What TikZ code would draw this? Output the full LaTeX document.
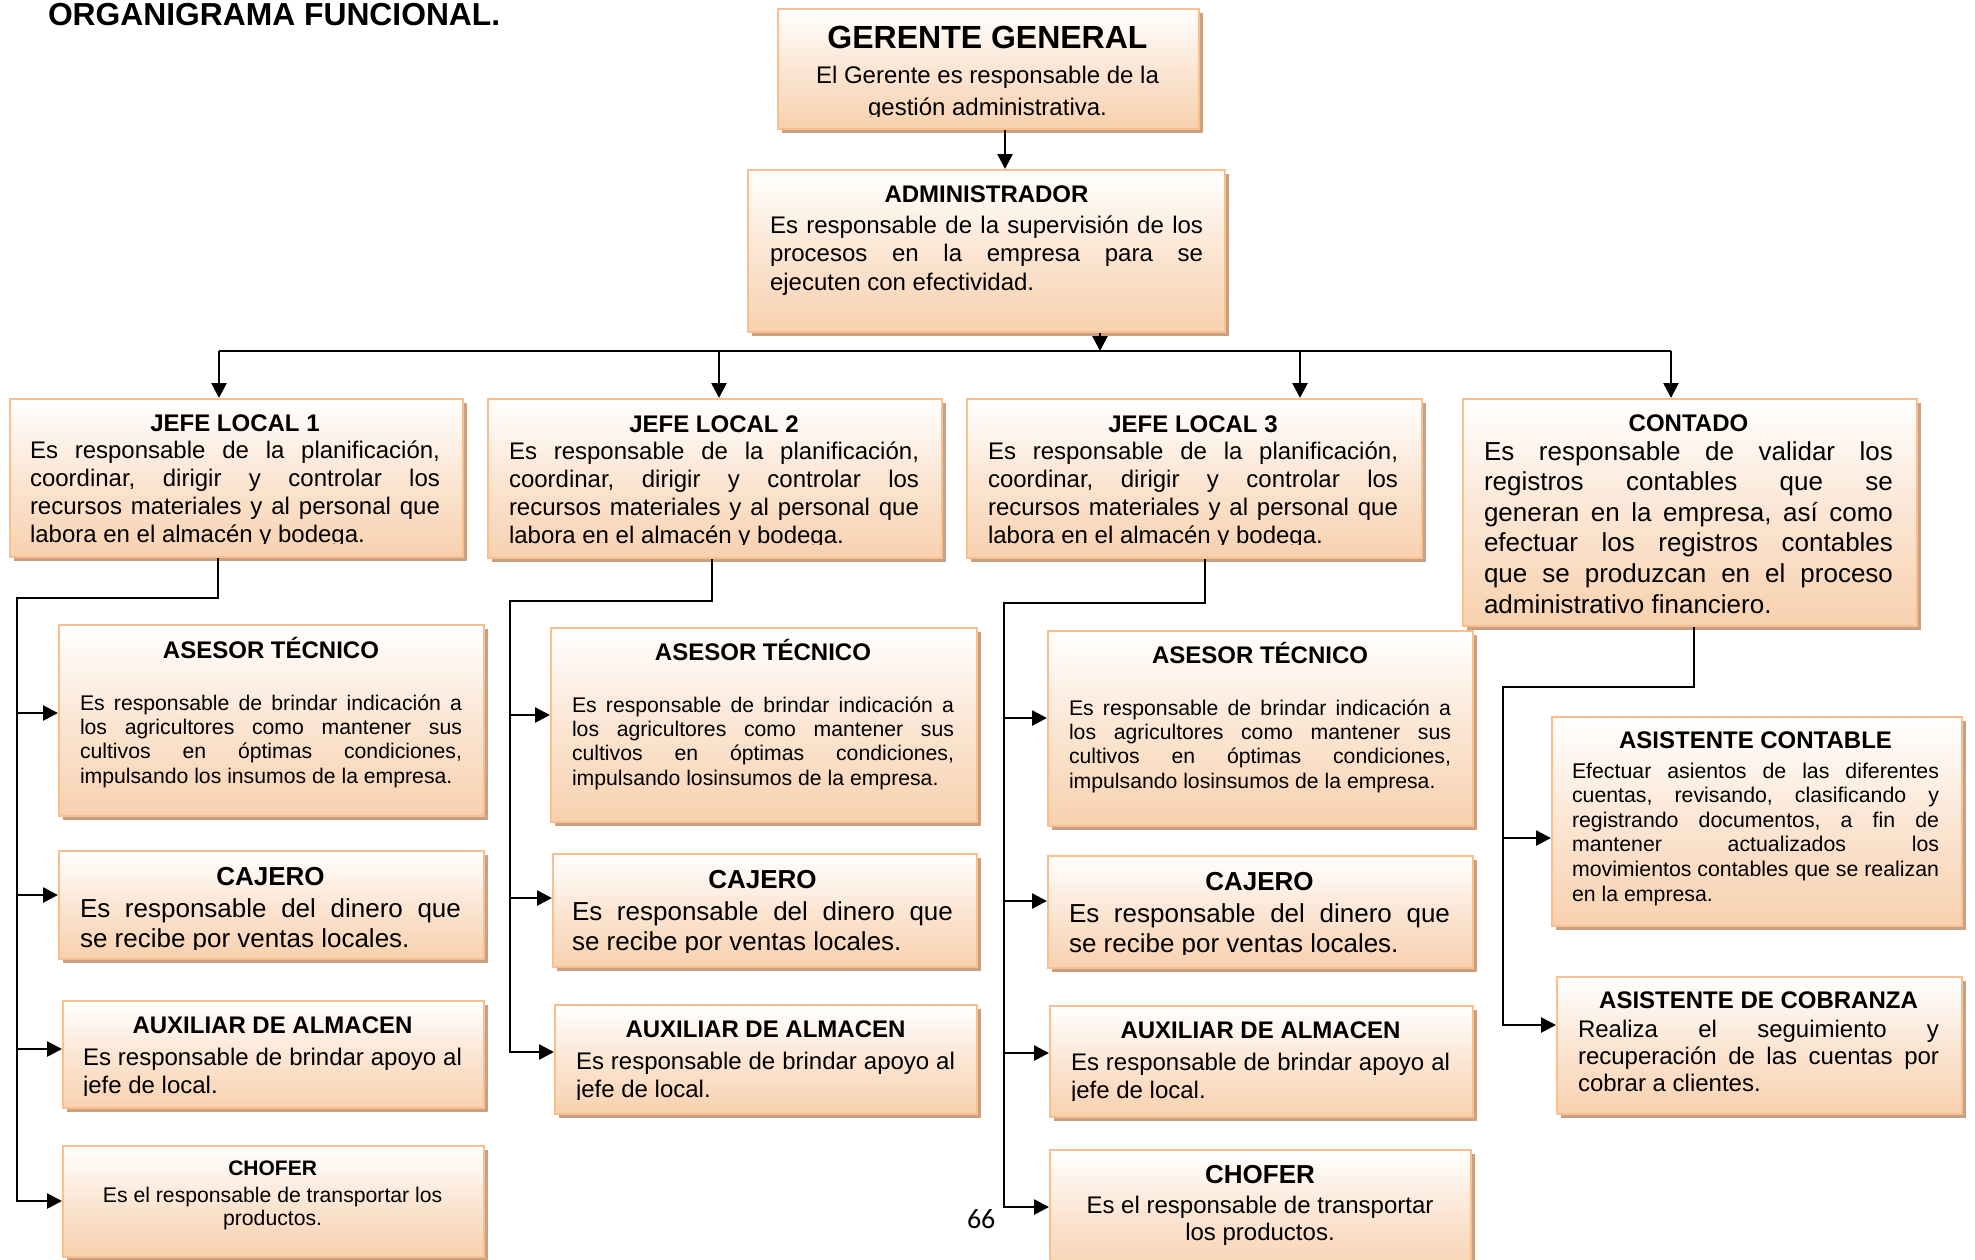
\documentclass[tikz,border=0pt]{standalone}
\usepackage{fontspec}
\setmainfont{Liberation Sans}
\newfontfamily\pgnum{Carlito}
\usetikzlibrary{arrows.meta,shadows}
\definecolor{bord}{HTML}{F9BF8F}
\definecolor{peach}{HTML}{F8D1AF}
\definecolor{shad}{HTML}{C9A182}
\frenchspacing
\newcommand\SK[1]{\baselineskip=#1\relax}
\newcommand\TT[2]{\hbox to\hsize{\hfil\fontsize{#1}{#1}\selectfont\bfseries #2\hfil}}
\newcommand\J[1]{\hbox to\hsize{#1}}
\newcommand\LL[1]{\hbox to\hsize{#1\hfil}}
\newcommand\CC[1]{\hbox to\hsize{\hfil#1\hfil}}
\newcommand\TB[2]{\vtop{\hsize=#1\lineskiplimit=-\maxdimen\lineskip=0pt\relax #2}}
\newcommand\BF[1]{\fontsize{#1}{#1}\selectfont}
\tikzset{
  box/.style={draw=bord, line width=1pt, top color=white, bottom color=peach, middle color=peach!55!white, inner sep=0pt,
    drop shadow={shadow xshift=2pt, shadow yshift=-2pt, fill=shad, opacity=1}},
  tx/.style={anchor=base west, inner sep=0pt, outer sep=0pt},
  conn/.style={line width=1.3pt},
  arr/.style={conn, -{Triangle[length=7.5pt,width=7.5pt]}}
}
\newcommand\pbox[5]{\node[box, anchor=north west, minimum width={(#4-#2)*0.5pt}, minimum height={(#5-#3)*0.5pt}] (#1) at (#2,#3) {};}
\begin{document}
\begin{tikzpicture}[x=0.5pt,y=-0.5pt]
\useasboundingbox (0,0) rectangle (1975,1259);
\fill[white] (0,0) rectangle (1975,1259);

\node[tx] (ttl) at (48,25) {\BF{15.9}\bfseries ORGANIGRAMA FUNCIONAL.};

% boxes
\pbox{ger}{777}{8}{1198}{128}
\pbox{adm}{747}{169}{1224}{331}
\pbox{j1}{9}{398}{462}{556}
\pbox{j2}{487}{398}{941}{557}
\pbox{j3}{966}{398}{1421}{557}
\pbox{ctd}{1462}{398}{1916}{625}
\pbox{as1}{58}{624}{483}{815}
\pbox{cj1}{58}{850}{483}{958}
\pbox{ax1}{62}{1000}{483}{1107}
\pbox{ch1}{62}{1145}{483}{1256}
\pbox{as2}{550}{627}{976}{821}
\pbox{cj2}{552}{853}{976}{966}
\pbox{ax2}{554}{1004}{976}{1113}
\pbox{as3}{1047}{630}{1472}{825}
\pbox{cj3}{1047}{855}{1472}{967}
\pbox{ax3}{1049}{1005}{1472}{1116}
\pbox{ch3}{1049}{1149}{1470}{1275}
\pbox{acb}{1551}{716}{1961}{925}
\pbox{acz}{1556}{976}{1961}{1113}

% texts
\begin{scope}
\clip (777,8) rectangle (1198,116);
\node[tx] (tger) at (777.5,48) {\TB{210pt}{\BF{12}\TT{16}{GERENTE GENERAL}\SK{17.5pt}\CC{El Gerente es responsable de la}\SK{16pt}\CC{gestión administrativa.}}};
\end{scope}

\node[tx] (tadm) at (770,202) {\TB{216.5pt}{\BF{12}\TT{12}{ADMINISTRADOR}\SK{15.5pt}\J{Es responsable de la supervisión de los}\SK{14.25pt}\J{procesos en la empresa para se}\LL{ejecuten con efectividad.}}};

\newcommand\jefetext[1]{\TB{205pt}{\BF{12}\TT{12}{JEFE LOCAL #1}\SK{13.5pt}\J{Es responsable de la planificación,}\SK{14pt}\J{coordinar, dirigir y controlar los}\J{recursos materiales y al personal que}\LL{labora en el almacén y bodega.}}}
\begin{scope}
\clip (9,398) rectangle (462,543.5);
\node[tx] (tj1) at (30,431) {\jefetext{1}};
\end{scope}
\begin{scope}
\clip (487,398) rectangle (941,544.5);
\node[tx] (tj2) at (509,432) {\jefetext{2}};
\end{scope}
\begin{scope}
\clip (966,398) rectangle (1421,544.5);
\node[tx] (tj3) at (988,432) {\jefetext{3}};
\end{scope}

\node[tx] (tctd) at (1484,431) {\TB{204.5pt}{\BF{13}\TT{12}{CONTADO}\SK{14.5pt}\J{Es responsable de validar los}\SK{15.3pt}\J{registros contables que se}\J{generan en la empresa, así como}\J{efectuar los registros contables}\J{que se produzcan en el proceso}\LL{administrativo financiero.}}};

\newcommand\asesortext[1]{\TB{191pt}{\BF{10.6}\TT{12}{ASESOR TÉCNICO}\SK{26pt}\J{Es responsable de brindar indicación a}\SK{12.2pt}\J{los agricultores como mantener sus}\J{cultivos en óptimas condiciones,}\LL{impulsando #1 de la empresa.}}}
\node[tx] (tas1) at (80,658) {\asesortext{los insumos}};
\node[tx] (tas2) at (572,660) {\asesortext{losinsumos}};
\node[tx] (tas3) at (1069,663) {\asesortext{losinsumos}};

\newcommand\cajerotext{\TB{190.5pt}{\BF{13}\TT{13}{CAJERO}\SK{16pt}\J{Es responsable del dinero que}\SK{15pt}\LL{se recibe por ventas locales.}}}
\begin{scope}
\clip (58,850) rectangle (483,949);
\node[tx] (tcj1) at (80,885) {\cajerotext};
\end{scope}
\begin{scope}
\clip (552,853) rectangle (976,952);
\node[tx] (tcj2) at (572,888) {\cajerotext};
\end{scope}
\begin{scope}
\clip (1047,855) rectangle (1472,954);
\node[tx] (tcj3) at (1069,890) {\cajerotext};
\end{scope}

\newcommand\auxtext{\TB{189.5pt}{\BF{12}\TT{12}{AUXILIAR DE ALMACEN}\SK{16pt}\J{Es responsable de brindar apoyo al}\SK{14pt}\LL{jefe de local.}}}
\begin{scope}
\clip (62,1000) rectangle (483,1095);
\node[tx] (tax1) at (83,1033) {\auxtext};
\end{scope}
\begin{scope}
\clip (554,1004) rectangle (976,1099);
\node[tx] (tax2) at (576,1037) {\auxtext};
\end{scope}
\begin{scope}
\clip (1049,1005) rectangle (1472,1100);
\node[tx] (tax3) at (1071,1038) {\auxtext};
\end{scope}

\node[tx] (tch1) at (72.6,1175) {\TB{200pt}{\BF{10.6}\TT{10.5}{CHOFER}\SK{13.5pt}\CC{Es el responsable de transportar los}\SK{11.5pt}\CC{productos.}}};
\node[tx] (tch3) at (1060,1183) {\TB{200pt}{\BF{12}\TT{13}{CHOFER}\SK{15pt}\CC{Es el responsable de transportar}\SK{13.5pt}\CC{los productos.}}};

\node[tx] (tacb) at (1572,748) {\TB{183.5pt}{\BF{10.65}\TT{12}{ASISTENTE CONTABLE}\SK{15pt}\J{Efectuar asientos de las diferentes}\SK{12.3pt}\J{cuentas, revisando, clasificando y}\J{registrando documentos, a fin de}\J{mantener actualizados los}\J{movimientos contables que se realizan}\LL{en la empresa.}}};
\node[tx] (tacz) at (1578,1008) {\TB{180.5pt}{\BF{12}\TT{12}{ASISTENTE DE COBRANZA}\SK{14.5pt}\J{Realiza el seguimiento y}\SK{13.5pt}\J{recuperación de las cuentas por}\LL{cobrar a clientes.}}};

\node[tx] (pg) at (967,1228) {\pgnum\BF{14}66};

% connectors
\coordinate (a0) at (1005,128);
\coordinate (a1) at (1100,351);
\coordinate (b1) at (219,351);
\coordinate (b2) at (719,351);
\coordinate (b3) at (1300,351);
\coordinate (b4) at (1671,351);
\draw[arr] (ger.south -| a0) -- (adm.north -| a0);
\draw[arr] (adm.south -| a1) -- (a1);
\draw[conn] (b1) -- (b4);
\draw[arr] (b1) -- (j1.north -| b1);
\draw[arr] (b2) -- (j2.north -| b2);
\draw[arr] (b3) -- (j3.north -| b3);
\draw[arr] (b4) -- (ctd.north -| b4);

% column 1
\coordinate (k1) at (218,598);
\coordinate (t1) at (17,598);
\coordinate (y11) at (17,713);
\coordinate (y12) at (17,895);
\coordinate (y13) at (17,1049);
\coordinate (y14) at (17,1201);
\draw[arr] (j1.south -| k1) |- (t1) |- (y14 -| ch1.west);
\draw[arr] (y11) -- (y11 -| as1.west);
\draw[arr] (y12) -- (y12 -| cj1.west);
\draw[arr] (y13) -- (y13 -| ax1.west);

% column 2
\coordinate (k2) at (712,601);
\coordinate (t2) at (510,601);
\coordinate (y21) at (510,715);
\coordinate (y22) at (510,898);
\coordinate (y23) at (510,1052);
\draw[arr] (j2.south -| k2) |- (t2) |- (y23 -| ax2.west);
\draw[arr] (y21) -- (y21 -| as2.west);
\draw[arr] (y22) -- (y22 -| cj2.west);

% column 3
\coordinate (k3) at (1205,603);
\coordinate (t3) at (1004,603);
\coordinate (y31) at (1004,718);
\coordinate (y32) at (1004,901);
\coordinate (y33) at (1004,1053);
\coordinate (y34) at (1004,1207);
\draw[arr] (j3.south -| k3) |- (t3) |- (y34 -| ch3.west);
\draw[arr] (y31) -- (y31 -| as3.west);
\draw[arr] (y32) -- (y32 -| cj3.west);
\draw[arr] (y33) -- (y33 -| ax3.west);

% column 4
\coordinate (k4) at (1694,687);
\coordinate (t4) at (1503,687);
\coordinate (y41) at (1503,838);
\coordinate (y42) at (1503,1025);
\draw[arr] (ctd.south -| k4) |- (t4) |- (y42 -| acz.west);
\draw[arr] (y41) -- (y41 -| acb.west);
\end{tikzpicture}
\end{document}
